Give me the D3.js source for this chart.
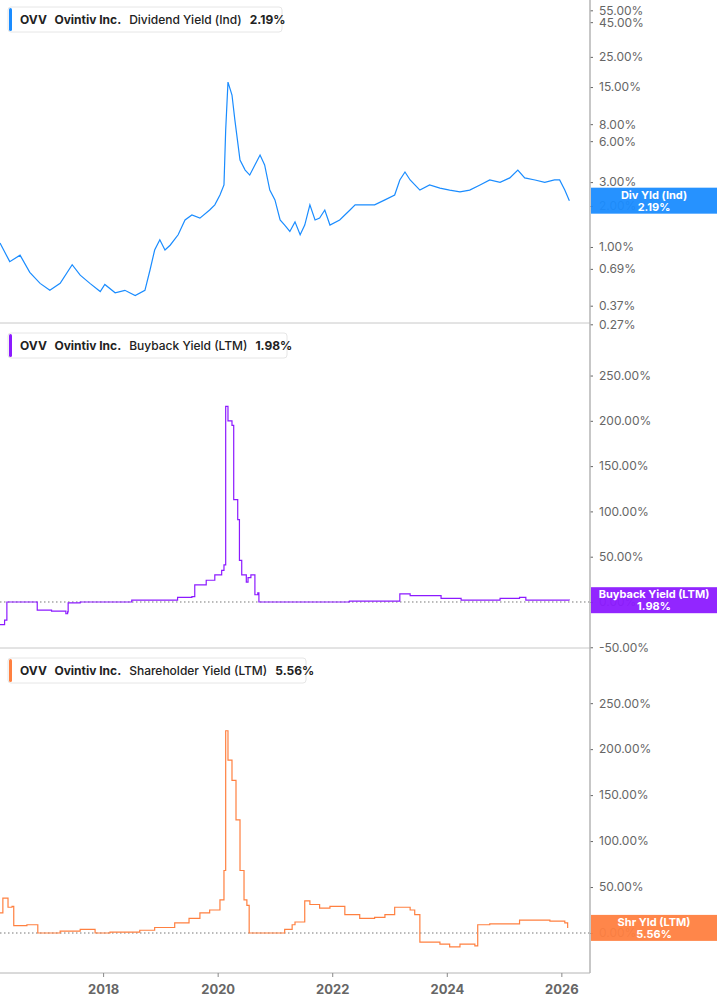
<!DOCTYPE html>
<html>
<head>
<meta charset="utf-8">
<script src="https://cdn.jsdelivr.net/npm/d3@7"></script>
<style>
  body { margin: 0; background: #fff; font-family: Inter, "Open Sans", sans-serif; }
  svg text { font-family: Inter, "Open Sans", sans-serif; }
</style>
</head>
<body>
<svg id="chart" width="717" height="1005"></svg>
<script>
// dividend yield (%), decimal year
const divYears = [2016.2,2016.37,2016.55,2016.72,2016.9,2017.07,2017.25,2017.46,2017.6,2017.77,2017.95,2018.03,2018.21,2018.38,2018.56,2018.73,2018.82,2018.9,2018.99,2019.08,2019.17,2019.31,2019.43,2019.55,2019.69,2019.86,2019.95,2020.04,2020.11,2020.14,2020.18,2020.25,2020.3,2020.39,2020.48,2020.56,2020.65,2020.74,2020.82,2020.91,2021.0,2021.09,2021.17,2021.26,2021.35,2021.44,2021.52,2021.61,2021.7,2021.78,2021.87,2021.96,2022.13,2022.31,2022.4,2022.57,2022.74,2022.92,2023.09,2023.18,2023.27,2023.36,2023.53,2023.7,2023.88,2024.05,2024.23,2024.4,2024.58,2024.75,2024.93,2025.1,2025.24,2025.36,2025.54,2025.71,2025.88,2025.97,2026.06,2026.14];
const divVals = [1.07,0.78,0.87,0.65,0.54,0.48,0.54,0.74,0.62,0.54,0.47,0.53,0.46,0.48,0.44,0.48,0.68,0.95,1.13,0.95,1.03,1.23,1.58,1.72,1.63,1.87,2.04,2.41,2.86,7.25,16.3,13.1,8.6,4.36,3.68,3.38,4.01,4.74,4.01,2.62,2.22,1.58,1.45,1.3,1.53,1.23,1.45,2.04,1.58,1.63,1.87,1.45,1.58,1.87,2.04,2.04,2.04,2.22,2.41,3.11,3.56,3.11,2.62,2.86,2.71,2.62,2.54,2.62,2.86,3.11,2.99,3.22,3.68,3.22,3.11,2.99,3.11,3.11,2.62,2.19];

// buyback yield LTM (%)
const bbYears = [2016.2,2016.28,2016.32,2016.84,2016.85,2017.1,2017.35,2017.38,2017.39,2017.6,2018.5,2019.3,2019.55,2019.6,2019.8,2019.95,2020.07,2020.11,2020.14,2020.18,2020.25,2020.28,2020.35,2020.38,2020.42,2020.5,2020.53,2020.58,2020.65,2020.7,2020.72,2020.8,2022.3,2023.18,2023.36,2023.9,2024.25,2024.93,2025.27,2025.38,2025.97,2026.14];
const bbVals = [-25,-20,0,0,-9,-10,-13,-11,-1,0,2,5,6,19,24,30,35,41,216,200,195,113,91,46,30,22,27,30,8,10,0,0,1,9,7,4,2,4,5,2,2,1.98];

// shareholder yield LTM (%)
const syYears = [2016.2,2016.25,2016.34,2016.41,2016.44,2016.65,2016.67,2016.86,2017.25,2017.6,2017.86,2018.12,2018.64,2018.9,2019.25,2019.5,2019.69,2019.86,2020.04,2020.11,2020.14,2020.18,2020.25,2020.32,2020.39,2020.46,2020.51,2020.55,2020.91,2021.17,2021.3,2021.35,2021.52,2021.61,2021.78,2021.96,2022.22,2022.48,2022.74,2022.92,2023.09,2023.27,2023.36,2023.44,2023.53,2023.88,2024.05,2024.23,2024.49,2024.54,2024.75,2025.27,2025.8,2026.06,2026.11];
const syVals = [22,38,28,29,8,8,9,0,2,4,0,1,3,6,11,16,22,25,36,68,220,188,166,123,68,36,30,0,0,4,9,12,35,31,27,29,20,16,17,20,28,28,25,20,-10,-12,-15,-12,-14,9,10,14,13,11,5.56];

const yearTicks = [2018, 2020, 2022, 2024, 2026];
const divTicks = [55, 45, 25, 15, 8, 6, 3, 2, 1, 0.69, 0.37, 0.27];
const pctTicks = [250, 200, 150, 100, 50, 0, -50];

const W = 717, axisX = 590;
const svg = d3.select('#chart');
const x = d3.scaleLinear().domain([2016.2, 2026.5]).range([0, axisX]);

const panels = [
  { top: 0, bottom: 323, log: true, domain: [0.276, 65.5], ticks: divTicks, color: '#1a8cff',
    years: divYears, vals: divVals, name: 'Dividend Yield (Ind)', last: '2.19%', badge: 'Div Yld (Ind)', legendW: 274 },
  { top: 323, bottom: 648, log: false, domain: [-50.8, 308], ticks: pctTicks, color: '#8c1aff',
    years: bbYears, vals: bbVals, name: 'Buyback Yield (LTM)', last: '1.98%', badge: 'Buyback Yield (LTM)', legendW: 279, zero: true },
  { top: 648, bottom: 973, log: false, domain: [-43.5, 310], ticks: pctTicks.filter(d => d >= 0), color: '#ff8040',
    years: syYears, vals: syVals, name: 'Shareholder Yield (LTM)', last: '5.56%', badge: 'Shr Yld (LTM)', legendW: 298, zero: true }
];

const fmt = d => d.toFixed(2) + '%';

panels.forEach((p, i) => {
  const y = (p.log ? d3.scaleLog() : d3.scaleLinear()).domain(p.domain).range([p.bottom, p.top]);
  if (i < 2) {
    svg.append('line').attr('x1', 0).attr('x2', axisX).attr('y1', p.bottom).attr('y2', p.bottom)
      .attr('stroke', '#c8c8c8');
  }
  if (p.zero) {
    svg.append('line').attr('x1', 0).attr('x2', axisX).attr('y1', y(0)).attr('y2', y(0))
      .attr('stroke', '#777').attr('stroke-dasharray', '1.5,2.5');
  }
  const data = p.years.map((t, k) => [t, p.vals[k]]);
  const line = d3.line().x(d => x(d[0])).y(d => y(d[1]));
  if (!p.log) line.curve(d3.curveStepAfter);
  svg.append('path').datum(data).attr('d', line).attr('fill', 'none')
    .attr('stroke', p.color).attr('stroke-width', 1.2);

  // y axis ticks
  const ax = svg.append('g').attr('transform', `translate(${axisX},0)`)
    .call(d3.axisRight(y).tickValues(p.ticks).tickFormat(fmt).tickSize(3).tickPadding(6));
  ax.select('.domain').remove();
  ax.selectAll('line').attr('stroke', '#666');
  ax.selectAll('text').attr('fill', '#666').attr('font-size', 12);

  // badge over the last value (covers the tick label under it, as in the source)
  const ly = y(p.vals[p.vals.length - 1]);
  svg.append('rect').attr('x', axisX + 1).attr('y', ly - 13).attr('width', W - axisX).attr('height', 26)
    .attr('fill', p.color).attr('fill-opacity', 0.95);
  const bt = svg.append('text').attr('x', 654).attr('y', ly - 2).attr('text-anchor', 'middle')
    .attr('fill', '#fff').attr('font-size', 11).attr('font-weight', 700);
  bt.append('tspan').attr('x', 654).text(p.badge);
  bt.append('tspan').attr('x', 654).attr('dy', 12).text(p.last);

  // legend
  const g = svg.append('g').attr('transform', `translate(8,${p.top + 7 + (i ? 3 : 0)})`);
  g.append('rect').attr('width', p.legendW).attr('height', 25).attr('rx', 3)
    .attr('fill', '#fff').attr('stroke', '#e6e6e6');
  g.append('rect').attr('x', 1).attr('y', 1).attr('width', 3).attr('height', 23).attr('rx', 1.5)
    .attr('fill', p.color);
  const lt = g.append('text').attr('x', 12).attr('y', 17).attr('font-size', 12).attr('fill', '#222');
  lt.append('tspan').attr('font-weight', 700).text('OVV');
  lt.append('tspan').attr('dx', 8).attr('font-weight', 700).text('Ovintiv Inc.');
  lt.append('tspan').attr('dx', 8).attr('font-weight', 500).text(p.name);
  lt.append('tspan').attr('dx', 8).attr('font-weight', 700).text(p.last);
});

// vertical axis line
svg.append('line').attr('x1', axisX).attr('x2', axisX).attr('y1', 0).attr('y2', 973)
  .attr('stroke', '#b4b4b4').attr('stroke-width', 1.5);

// x axis
const xa = svg.append('g').attr('transform', 'translate(0,973)')
  .call(d3.axisBottom(x).tickValues(yearTicks).tickFormat(d3.format('d')).tickSize(4).tickPadding(8));
xa.select('.domain').attr('stroke', '#b4b4b4').attr('d', `M0,0H${axisX}`);
xa.selectAll('line').attr('stroke', '#888');
xa.selectAll('text').attr('fill', '#666').attr('font-size', 13).attr('font-weight', 700);
</script>
</body>
</html>
